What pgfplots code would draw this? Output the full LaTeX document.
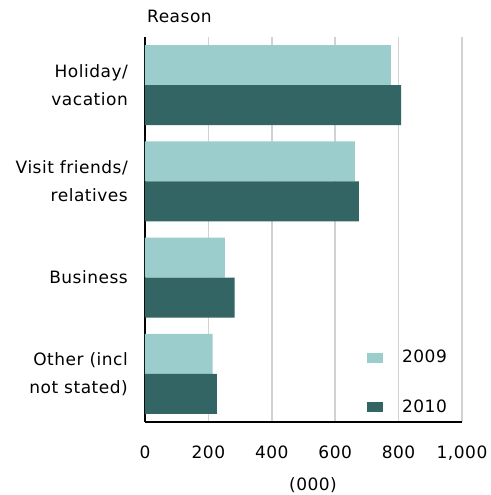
\documentclass[border=0pt]{standalone}
\usepackage{fontspec}
\setmainfont{DejaVu Sans}[LetterSpace=3]
\usepackage{pgfplots}
\pgfplotsset{compat=1.18}
\definecolor{c09}{HTML}{9CCDCD}
\definecolor{c10}{HTML}{336565}
\begin{document}
\fontsize{17}{28}\selectfont
\begin{tikzpicture}[font=\fontsize{17}{28}\selectfont]
\begin{axis}[
  name=ax,
  scale only axis, width=317pt, height=385pt,
  xbar, bar width=40pt,
  xmin=0, xmax=1000, ymin=-0.5, ymax=3.5, y dir=reverse,
  ytick={0,1,2,3},
  yticklabels={{Holiday/\\vacation},{Visit friends/\\relatives},Business,{Other (incl\\not stated)}},
  yticklabel style={align=right, inner sep=0pt, xshift=-17pt, font=\fontsize{17}{28}\selectfont},
  xtick={0,200,400,600,800,1000},
  xticklabels={0,200,400,600,800,{1,000}},
  xticklabel style={inner sep=0pt, yshift=-24pt, font=\fontsize{17}{28}\selectfont},
  major tick length=0pt,
  xmajorgrids, grid style={draw=gray!35, line width=1.5pt},
  axis x line*=bottom, axis y line*=left,
  axis line style={black, line width=1.5pt, -},
  xlabel={(000)},
  xlabel style={at={(axis description cs:0.53,0)}, anchor=base, yshift=-68pt, inner sep=0pt},
  legend image code/.code={\fill[#1] (0pt,-5pt) rectangle (16pt,5pt);},
  legend style={draw=none, fill=none, at={(0.70,0.192)}, anchor=north west,
    inner sep=0pt, row sep=30pt, font=\fontsize{17}{20}\selectfont,
    nodes={inner sep=2pt},
    /tikz/every odd column/.append style={column sep=17pt}},
  legend cell align=left,
]
\addplot[fill=c09, draw=none, bar shift=20pt] coordinates {(776,0) (662,1) (252,2) (213,3)};
\addplot[fill=c10, draw=none, bar shift=-20pt] coordinates {(808,0) (675,1) (283,2) (227,3)};
\legend{2009,2010}
\end{axis}
\node[anchor=base west, inner sep=0pt] at ([xshift=2pt,yshift=14pt]ax.north west) {Reason};
\path ([xshift=-145pt,yshift=-73pt]ax.south west) rectangle ++(490pt,495pt);
\end{tikzpicture}
\end{document}
